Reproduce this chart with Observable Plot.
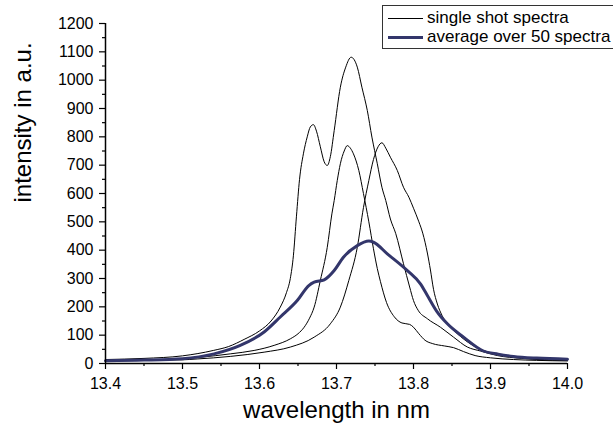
<!DOCTYPE html>
<html><head><meta charset="utf-8">
<script src="https://cdn.jsdelivr.net/npm/d3@7"></script>
<script src="https://cdn.jsdelivr.net/npm/@observablehq/plot@0.6"></script>
<style>
html,body{margin:0;padding:0;background:#fff;}
body{width:613px;height:430px;overflow:hidden;position:relative;font-family:"Liberation Sans",Arial,sans-serif;}
#legend{position:absolute;left:382px;top:5px;width:260px;height:44px;border:1px solid #333;box-sizing:border-box;font-size:17px;color:#000;background:#fff;}
.row{position:absolute;left:5px;height:20px;display:flex;align-items:center;white-space:nowrap;}
.swatch{width:35px;margin-right:4px;height:0;}
</style></head><body>
<div id="chart"></div>
<div id="legend"></div>
<script>
// ---- data (wavelength in nm, intensity in a.u.) ----
const shot1 = [[13.40,14],[13.45,18],[13.50,27],[13.54,46],[13.56,60],[13.58,85],[13.60,115],[13.615,150],[13.627,199],[13.635,250],[13.640,300],[13.644,380],[13.648,520],[13.652,650],[13.657,740],[13.662,800],[13.666,835],[13.670,843],[13.674,820],[13.679,765],[13.684,712],[13.688,699],[13.692,730],[13.697,822],[13.705,975],[13.712,1046],[13.719,1081],[13.727,1046],[13.733,975],[13.740,893],[13.746,799],[13.753,705],[13.759,622],[13.764,575],[13.770,510],[13.777,458],[13.787,352],[13.795,270],[13.800,222],[13.806,188],[13.818,158],[13.835,128],[13.852,93],[13.870,58],[13.887,44],[13.909,28],[13.94,18],[13.97,13],[14.00,11]];
const shot2 = [[13.40,11],[13.45,13],[13.497,16],[13.523,22],[13.562,34],[13.593,46],[13.619,64],[13.640,87],[13.650,105],[13.658,128],[13.665,160],[13.671,199],[13.679,293],[13.688,410],[13.694,528],[13.697,575],[13.701,646],[13.705,705],[13.710,750],[13.714,769],[13.718,760],[13.722,740],[13.729,681],[13.735,600],[13.742,500],[13.748,405],[13.753,335],[13.757,290],[13.765,215],[13.775,165],[13.785,143],[13.795,138],[13.800,128],[13.807,105],[13.815,82],[13.825,70],[13.840,62],[13.852,56],[13.865,42],[13.880,28],[13.900,20],[13.930,14],[13.960,11],[14.00,9]];
const shot3 = [[13.40,9],[13.45,11],[13.50,13],[13.519,16],[13.562,25],[13.606,40],[13.640,58],[13.671,93],[13.692,140],[13.705,199],[13.716,293],[13.727,410],[13.735,550],[13.742,646],[13.748,720],[13.754,765],[13.759,779],[13.764,760],[13.770,728],[13.779,681],[13.787,622],[13.794,587],[13.800,548],[13.807,500],[13.812,460],[13.818,390],[13.822,330],[13.826,262],[13.831,210],[13.837,170],[13.844,140],[13.857,105],[13.874,69],[13.891,46],[13.910,32],[13.940,20],[13.970,14],[14.00,12]];
const average = [[13.40,10],[13.45,12],[13.50,17],[13.541,34],[13.575,64],[13.606,111],[13.627,164],[13.649,222],[13.664,275],[13.671,287],[13.684,295],[13.697,328],[13.709,375],[13.727,416],[13.742,432],[13.748,428],[13.766,387],[13.792,328],[13.809,281],[13.818,240],[13.830,185],[13.844,140],[13.865,93],[13.89,45],[13.91,33],[13.93,25],[13.96,19],[14.00,15]];

const xTicks = [13.4, 13.5, 13.6, 13.7, 13.8, 13.9, 14.0];
const xMinorTicks = [13.45, 13.55, 13.65, 13.75, 13.85, 13.95];
const yTicks = [0,100,200,300,400,500,600,700,800,900,1000,1100,1200];
const yMinorTicks = [50,150,250,350,450,550,650,750,850,950,1050,1150];
const xTitle = "wavelength in nm";
const yTitle = "intensity in a.u.";
const legendLabels = ["single shot spectra", "average over 50 spectra"];
const singleColor = "#000000";
const avgColor = "#33366b";

const fmtX = d3.format(".1f");
const fmtY = d3.format("d");
const X = d => d[0], Y = d => d[1];

const chart = Plot.plot({
  width: 613, height: 430,
  marginLeft: 105, marginRight: 46, marginTop: 23, marginBottom: 67,
  style: {fontFamily: "'Liberation Sans', Arial, sans-serif", background: "#fff", color: "#000", overflow: "visible"},
  x: {domain: [13.4, 14.0]},
  y: {domain: [0, 1200]},
  marks: [
    Plot.axisX(xTicks, {tickSize: 6, tickPadding: 8, tickFormat: fmtX, fontSize: 16, label: null, strokeWidth: 1.2}),
    Plot.axisX(xMinorTicks, {tickSize: 3, tickFormat: () => "", label: null, strokeWidth: 1.2}),
    Plot.axisY(yTicks, {tickSize: 6, tickPadding: 6, tickFormat: fmtY, fontSize: 16, label: null, strokeWidth: 1.2}),
    Plot.axisY(yMinorTicks, {tickSize: 3, tickFormat: () => "", label: null, strokeWidth: 1.2}),
    Plot.line(shot1, {x: X, y: Y, stroke: singleColor, strokeWidth: 1, curve: "monotone-x"}),
    Plot.line(shot2, {x: X, y: Y, stroke: singleColor, strokeWidth: 1, curve: "monotone-x"}),
    Plot.line(shot3, {x: X, y: Y, stroke: singleColor, strokeWidth: 1, curve: "monotone-x"}),
    Plot.line(average, {x: X, y: Y, stroke: avgColor, strokeWidth: 3, curve: "monotone-x"}),
    Plot.ruleX([13.4], {strokeWidth: 1.5}),
    Plot.ruleY([0], {strokeWidth: 1.5}),
    Plot.text([xTitle], {frameAnchor: "bottom", dy: 54, fontSize: 24, text: d => d}),
    Plot.text([yTitle], {frameAnchor: "left", dx: -82, dy: 9, rotate: -90, fontSize: 24, text: d => d})
  ]
});
document.getElementById("chart").appendChild(chart);

// legend
const legend = document.getElementById("legend");
legendLabels.forEach((lab, i) => {
  const row = document.createElement("div");
  row.className = "row";
  row.style.top = (i === 0 ? 2.3 : 21.3) + "px";
  const sw = document.createElement("div");
  sw.className = "swatch";
  sw.style.borderTop = i === 0 ? `1px solid ${singleColor}` : `3px solid ${avgColor}`;
  const t = document.createElement("span");
  t.textContent = lab;
  row.appendChild(sw); row.appendChild(t);
  legend.appendChild(row);
});
</script></body></html>
